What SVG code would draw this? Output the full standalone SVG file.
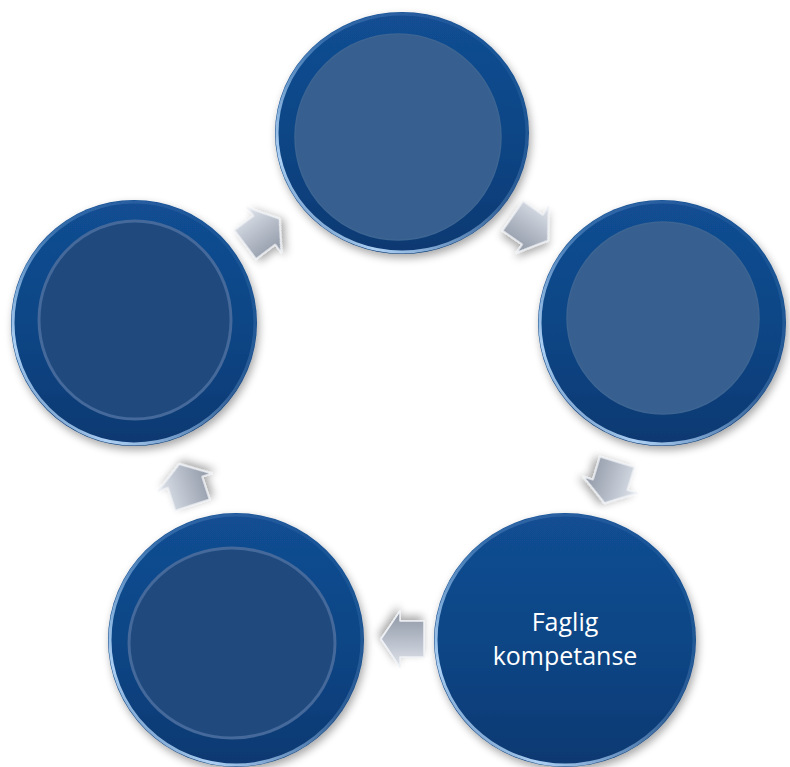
<svg xmlns="http://www.w3.org/2000/svg" width="790" height="767" viewBox="0 0 790 767">
<defs>
<linearGradient id="outerG" x1="0" y1="0" x2="0" y2="1">
<stop offset="0" stop-color="#124e93"/>
<stop offset="0.6" stop-color="#0e4483"/>
<stop offset="1" stop-color="#0a3870"/>
</linearGradient>
<linearGradient id="rimG" x1="1" y1="0" x2="0" y2="1">
<stop offset="0" stop-color="#9cc8f5" stop-opacity="0"/>
<stop offset="0.45" stop-color="#9cc8f5" stop-opacity="0.25"/>
<stop offset="0.8" stop-color="#b5d8fa" stop-opacity="0.95"/>
<stop offset="1" stop-color="#9cc8f5" stop-opacity="0.2"/>
</linearGradient>
<linearGradient id="arrowG" x1="0" y1="0" x2="0" y2="1">
<stop offset="0" stop-color="#dfe3ea"/>
<stop offset="0.5" stop-color="#b5bcc8"/>
<stop offset="1" stop-color="#8d95a3"/>
</linearGradient>
<filter id="sh" x="-20%" y="-20%" width="140%" height="140%">
<feGaussianBlur in="SourceAlpha" stdDeviation="4"/>
<feOffset dx="2" dy="4" result="b"/>
<feComponentTransfer><feFuncA type="linear" slope="0.35"/></feComponentTransfer>
<feMerge><feMergeNode/><feMergeNode in="SourceGraphic"/></feMerge>
</filter>
<path id="arr" d="M-21,-18 L3,-18 L3,-28 L22,0 L3,28 L3,18 L-21,18 Z"/>
</defs>
<style>
.outer{fill:url(#outerG);filter:url(#sh)}
.rim{fill:none;stroke:url(#rimG);stroke-width:3}
.innerA{fill:#375f8f;stroke:#3d6593;stroke-width:1.5}
.innerB{fill:#204a7e;stroke:#44699a;stroke-width:3}
.lbl{font-family:"Open Sans","Liberation Sans",sans-serif;font-size:25px;fill:#ffffff;text-anchor:middle}
.arrow{fill:url(#arrowG);stroke:#eef1f5;stroke-width:1.5;stroke-linejoin:round;filter:url(#sh)}
</style>
<g id="connectors">
<use href="#arr" class="arrow" transform="translate(262,232) rotate(-37)"/>
<use href="#arr" class="arrow" transform="translate(530,228) rotate(35)"/>
<use href="#arr" class="arrow" transform="translate(611,482) rotate(107)"/>
<use href="#arr" class="arrow" transform="translate(403,639) rotate(180)"/>
<use href="#arr" class="arrow" transform="translate(186,485) rotate(-108)"/>
</g>
<g id="node1">
<ellipse class="outer" cx="402" cy="133" rx="127" ry="121"/>
<ellipse class="rim" cx="402" cy="133" rx="125" ry="119"/>
<circle class="innerA" cx="398" cy="137" r="103"/>
</g>
<g id="node2">
<ellipse class="outer" cx="662" cy="323" rx="124" ry="123"/>
<ellipse class="rim" cx="662" cy="323" rx="122" ry="121"/>
<circle class="innerA" cx="663" cy="318" r="96"/>
</g>
<g id="node3">
<ellipse class="outer" cx="565" cy="640" rx="131" ry="127"/>
<ellipse class="rim" cx="565" cy="640" rx="129" ry="125"/>
<text class="lbl" x="565" y="631">Faglig</text>
<text class="lbl" x="565" y="665">kompetanse</text>
</g>
<g id="node4">
<ellipse class="outer" cx="236" cy="640" rx="128" ry="127"/>
<ellipse class="rim" cx="236" cy="640" rx="126" ry="125"/>
<ellipse class="innerB" cx="232" cy="643" rx="103" ry="95"/>
</g>
<g id="node5">
<ellipse class="outer" cx="134" cy="323" rx="123" ry="123"/>
<ellipse class="rim" cx="134" cy="323" rx="121" ry="121"/>
<ellipse class="innerB" cx="135" cy="320" rx="96" ry="99"/>
</g>
</svg>
